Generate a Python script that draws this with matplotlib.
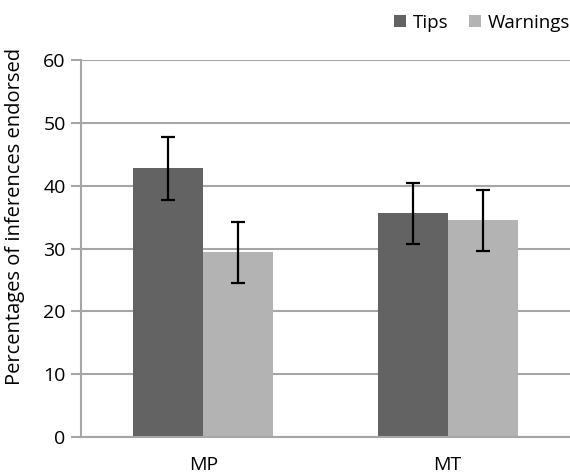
import matplotlib.pyplot as plt
import numpy as np

plt.rcParams['font.family'] = ['Open Sans', 'DejaVu Sans']

categories = ["MP", "MT"]
tips = [42.8, 35.6]
tips_err = [5.0, 4.85]
warnings = [29.4, 34.5]
warnings_err = [4.8, 4.85]

fig = plt.figure(figsize=(5.7, 4.74), dpi=100)
ax = fig.add_axes([0.142, 0.078, 0.858, 0.795])

x = np.arange(len(categories))
w = 0.286
ax.bar(x - w / 2, tips, w, color="#636363", label="Tips", zorder=2,
       yerr=tips_err, capsize=5, error_kw=dict(ecolor="black", elinewidth=1.6, capthick=1.6))
ax.bar(x + w / 2, warnings, w, color="#b3b3b3", label="Warnings", zorder=2,
       yerr=warnings_err, capsize=5, error_kw=dict(ecolor="black", elinewidth=1.6, capthick=1.6))

ax.set_xlim(-0.5, 1.5)
ax.set_ylim(0, 60)
ax.set_yticks(range(0, 61, 10))
ax.set_xticks(x)
ax.set_xticklabels(categories)
ax.yaxis.grid(True, color="#a6a6a6", linewidth=1.5, zorder=0)
ax.set_axisbelow(True)

for s in ["top", "right"]:
    ax.spines[s].set_visible(False)
ax.spines["left"].set_color("#a6a6a6")
ax.spines["left"].set_linewidth(1.5)
ax.spines["bottom"].set_color("#a6a6a6")
ax.spines["bottom"].set_linewidth(1.5)
ax.tick_params(axis="y", length=7, width=1.5, color="#a6a6a6", labelsize=14, pad=4)
ax.tick_params(axis="x", length=0, labelsize=14, pad=14)
ax.set_ylabel("Percentages of inferences endorsed", fontsize=14.5)
ax.yaxis.set_label_coords(-0.115, 0.586)

ax.legend(loc="center right", bbox_to_anchor=(1.0, 1.1), ncol=2, frameon=False,
          fontsize=13.5, handlelength=0.65, handleheight=0.65, handletextpad=0.35,
          columnspacing=1.1, borderaxespad=0, borderpad=0)

fig.savefig("out.png", dpi=100)
